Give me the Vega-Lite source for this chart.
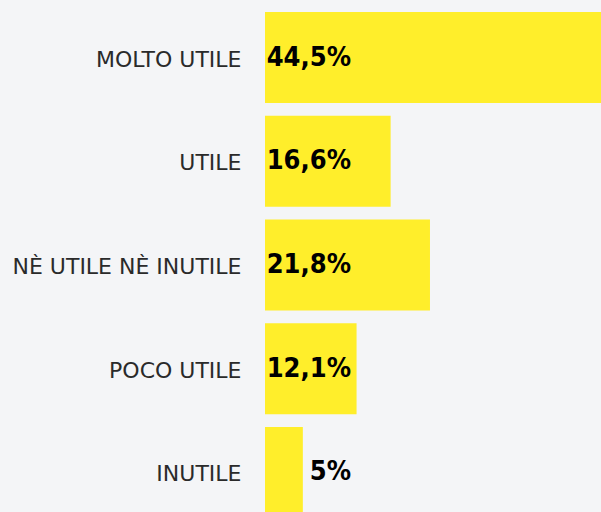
{
  "$schema": "https://vega.github.io/schema/vega-lite/v6.json",
  "autosize": "none",
  "width": 336,
  "height": 512,
  "padding": {"left": 265, "top": 0, "right": 0, "bottom": 0},
  "background": "#f4f5f7",
  "config": {"view": {"stroke": null}},
  "data": {
    "values": [
      {"risposta": "MOLTO UTILE", "valore": 44.5, "etichetta": "44,5%"},
      {"risposta": "UTILE", "valore": 16.6, "etichetta": "16,6%"},
      {"risposta": "NÈ UTILE NÈ INUTILE", "valore": 21.8, "etichetta": "21,8%"},
      {"risposta": "POCO UTILE", "valore": 12.1, "etichetta": "12,1%"},
      {"risposta": "INUTILE", "valore": 5, "etichetta": "5%"}
    ]
  },
  "encoding": {
    "y": {
      "field": "risposta",
      "type": "nominal",
      "sort": null,
      "scale": {"range": [0, 530], "paddingInner": 0.122, "paddingOuter": 0.116},
      "axis": {
        "title": null,
        "ticks": false,
        "domain": false,
        "grid": false,
        "labelPadding": 24,
        "labelOffset": 2,
        "labelFont": "DejaVu Sans",
        "labelFontSize": 22,
        "labelColor": "#2a2a2a",
        "labelFontWeight": "normal",
        "labelLimit": 300
      }
    }
  },
  "layer": [
    {
      "mark": {"type": "bar", "color": "#ffee2b"},
      "encoding": {
        "x": {"field": "valore", "type": "quantitative", "scale": {"domain": [0, 44.4], "nice": false, "clamp": false}, "axis": null}
      }
    },
    {
      "mark": {"type": "text", "align": "right", "baseline": "middle", "dx": 86, "dy": 0, "font": "DejaVu Sans Condensed", "fontWeight": "bold", "fontSize": 27, "color": "#000000"},
      "encoding": {
        "x": {"datum": 0, "type": "quantitative"},
        "text": {"field": "etichetta"}
      }
    }
  ]
}
